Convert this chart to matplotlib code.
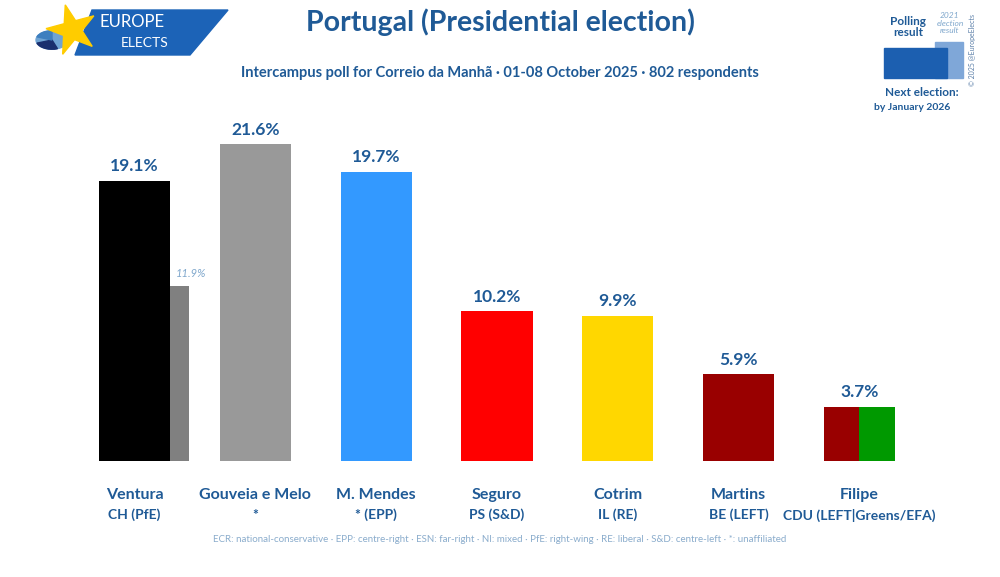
import numpy as np
import matplotlib.pyplot as plt
from matplotlib.patches import Polygon, Rectangle, Wedge, Circle

plt.rcParams['font.family'] = ['Lato', 'DejaVu Sans']

names = ["Ventura", "Gouveia e Melo", "M. Mendes", "Seguro", "Cotrim", "Martins", "Filipe"]
parties = ["CH (PfE)", "*", "* (EPP)", "PS (S&D)", "IL (RE)", "BE (LEFT)", "CDU (LEFT|Greens/EFA)"]
values = [19.1, 21.6, 19.7, 10.2, 9.9, 5.9, 3.7]
colors = ["#000000", "#999999", "#3399ff", "#ff0000", "#ffd700", "#990000", "#990000"]
prev_values = [11.9]  # 2021 result, Ventura only

blue = "#1f5a96"
light = "#7fa7cc"

fig = plt.figure(figsize=(10, 5.77), dpi=100)
ax = fig.add_axes([0, 116 / 577, 1, 461 / 577])
ax.set_xlim(-1.113, 7.163)
ax.set_ylim(0, 461 / 14.67)
ax.axis("off")

w = 0.588
x = list(range(len(names)))
bars = ax.bar(x, values, width=w, color=colors)

# Filipe: split bar (PCP red / PEV green)
ax.bar(x[6] + w / 4, values[6], width=w / 2, color="#009900")

# Ventura 2021 result
ax.bar(x[0] + w / 2, prev_values[0], width=0.157, align="edge", color="#808080")
ax.text(x[0] + w / 2 + 0.05, prev_values[0] + 0.5, f"{prev_values[0]}%", color=light,
        fontsize=8, style="italic", ha="left", va="bottom")

for xi, v in zip(x, values):
    ax.text(xi, v + 0.45, f"{v}%", ha="center", va="bottom", color=blue,
            fontsize=12.5, fontweight="bold")

for xi, n, p in zip(x, names, parties):
    fx = (xi + 1.113) / 8.276
    fig.text(fx, 1 - 495 / 577, n, ha="center", va="center", color=blue,
             fontsize=11.5, fontweight="bold")
    fig.text(fx, 1 - 515 / 577, p, ha="center", va="center", color=blue,
             fontsize=10, fontweight="bold")

fig.text(0.5, 1 - 22 / 577, "Portugal (Presidential election)", ha="center", va="center",
         color=blue, fontsize=20.5, fontweight="bold")
fig.text(0.5, 1 - 73 / 577,
         "Intercampus poll for Correio da Manhã · 01-08 October 2025 · 802 respondents",
         ha="center", va="center", color=blue, fontsize=10.5, fontweight="bold")
fig.text(0.5, 1 - 540 / 577,
         "ECR: national-conservative · EPP: centre-right · ESN: far-right · NI: mixed · "
         "PfE: right-wing · RE: liberal · S&D: centre-left · *: unaffiliated",
         ha="center", va="center", color="#8aaccc", fontsize=7)

# logo
W, H = 1000, 577
def fp(px, py):
    return (px / W, 1 - py / H)

fig.patches.append(Polygon([fp(92, 10), fp(228, 10), fp(190, 55), fp(75, 55)], closed=True,
                           transform=fig.transFigure, color="#1c63b7", zorder=1))
cx, cy, r = 52, 40, 16
fig.patches.append(Circle(fp(cx, cy), r / W, transform=fig.transFigure, color="#6fa3d3", zorder=2))
fig.patches.append(Wedge(fp(cx, cy), r / W, 200, 290, transform=fig.transFigure,
                         color="#1a2f6e", zorder=2))
fig.patches.append(Wedge(fp(cx, cy), r / W, 90, 160, transform=fig.transFigure,
                         color="#3e7fbf", zorder=2))
ang = np.deg2rad(90 + np.arange(10) * 36 + 15)
rad = np.where(np.arange(10) % 2 == 0, 26, 10)
star = [fp(72 + rr * np.cos(a), 30 - rr * np.sin(a)) for rr, a in zip(rad, ang)]
fig.patches.append(Polygon(star, closed=True, transform=fig.transFigure, color="#ffcc00", zorder=3))
fig.text(132 / W, 1 - 22 / H, "EUROPE", color="white", fontsize=12, ha="center", va="center")
fig.text(145 / W, 1 - 43 / H, "ELECTS", color="white", fontsize=10, ha="center", va="center")

# top-right legend
fig.patches.append(Rectangle(fp(935, 78), 28 / W, 36 / H, transform=fig.transFigure,
                             color="#7fa7d8", zorder=1))
fig.patches.append(Rectangle(fp(884, 78), 63 / W, 30 / H, transform=fig.transFigure,
                             color="#1c5fb0", zorder=2))
fig.text(908 / W, 1 - 27 / H, "Polling\nresult", color=blue, fontsize=8.5, fontweight="bold",
         ha="center", va="center", linespacing=1.1)
fig.text(950 / W, 1 - 23 / H, "2021\nelection\nresult", color=light, fontsize=6,
         style="italic", ha="center", va="center", linespacing=1.1)
fig.text(972 / W, 1 - 50 / H, "© 2025 @EuropeElects", color="#5a7ea8", fontsize=5,
         rotation=90, ha="center", va="center")
fig.text(922 / W, 1 - 92 / H, "Next election:", color=blue, fontsize=8.5, fontweight="bold",
         ha="center", va="center")
fig.text(912 / W, 1 - 107 / H, "by January 2026", color=blue, fontsize=7.5, fontweight="bold",
         ha="center", va="center")

fig.savefig("out.png", dpi=100)
